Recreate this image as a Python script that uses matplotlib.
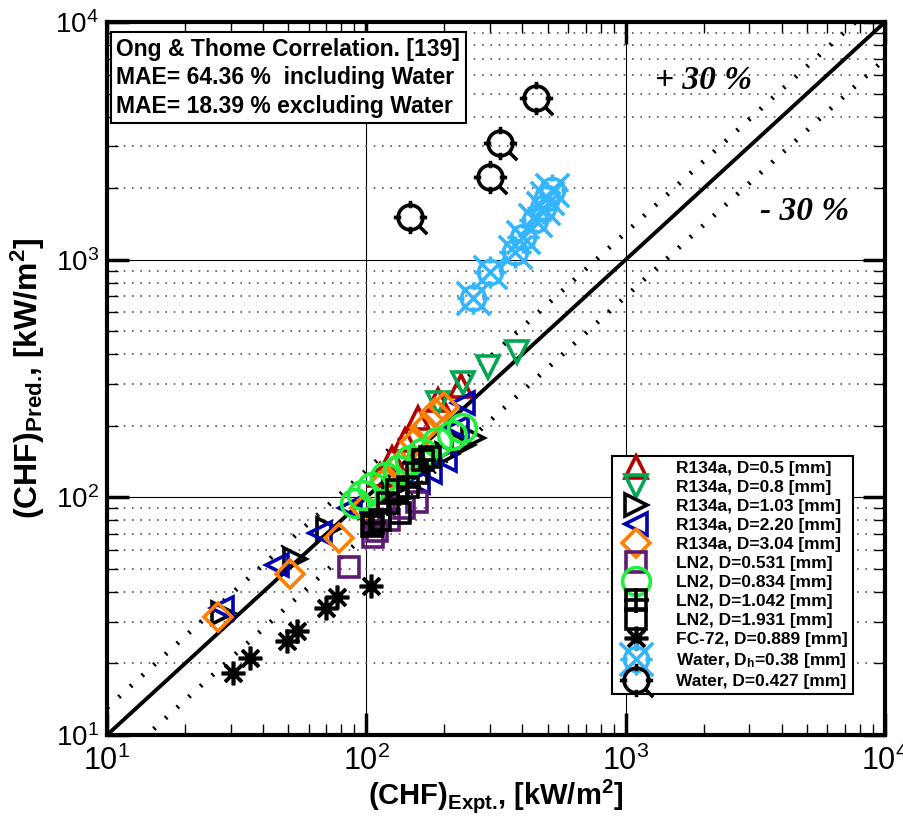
import matplotlib
matplotlib.use('Agg')
import matplotlib.pyplot as plt
import numpy as np
from matplotlib.path import Path

plt.rcParams['font.family'] = ['Liberation Sans', 'DejaVu Sans']
plt.rcParams['mathtext.default'] = 'regular'

r05_x = [113, 126, 141, 158, 189, 232]
r05_y = [124, 146, 174, 216, 256, 294]

r08_x = [189, 236, 294, 381]
r08_y = [249, 303, 353, 408]

r103_x = [28.0, 53.1, 71.1, 128, 205, 236, 258]
r103_y = [32.6, 55.0, 73.8, 108, 152, 166, 177]

r220_x = [27.8, 45.3, 66.3, 86.5, 158, 176, 201, 224, 236]
r220_y = [34.2, 51.9, 70.8, 90.2, 116, 128, 144, 196, 249]

r304_x = [26.8, 50.8, 78.5, 98.9, 118, 135, 154, 168, 184, 200]
r304_y = [31.4, 47.6, 67.4, 90.2, 116, 137, 171, 196, 226, 240]

ln531_x = [86, 106, 110, 122, 140, 157]
ln531_y = [51, 68, 72, 80, 90, 96]

ln834_x = [90.4, 96.2, 105, 118, 132, 147, 164, 187, 214, 234]
ln834_y = [94.6, 102, 110, 122, 130, 144, 154, 171, 183, 196]

ln1042_x = [106, 121, 145, 165]
ln1042_y = [78, 95, 110, 144]

ln1931_x = [105, 113, 131, 135, 157, 176]
ln1931_y = [76, 80, 107, 86, 126, 148]

fc72_x = [30.6, 35.6, 49.4, 54.0, 70.0, 77.1, 104]
fc72_y = [18.2, 21.1, 24.8, 27.4, 34.2, 38.1, 42.4]

w38_x = [258, 300, 375, 402, 447, 480, 498, 520]
w38_y = [689, 887, 1076, 1245, 1468, 1648, 1816, 1963]

w427_x = [147, 300, 328, 451]
w427_y = [1511, 2225, 3093, 4786]

# ---- custom markers ----
def circ_ticks(diag=False, cross=False):
    paths = [Path.circle((0, 0), 1.0)]
    for dx, dy in [(0, 1), (0, -1), (1, 0), (-1, 0)]:
        paths.append(Path([(0.75 * dx, 0.75 * dy), (1.35 * dx, 1.35 * dy)],
                          [Path.MOVETO, Path.LINETO]))
    if diag:
        paths.append(Path([(0.7, -0.7), (1.35, -1.35)], [Path.MOVETO, Path.LINETO]))
    if cross:
        paths.append(Path([(-1.4, -1.4), (1.4, 1.4)], [Path.MOVETO, Path.LINETO]))
        paths.append(Path([(-1.4, 1.4), (1.4, -1.4)], [Path.MOVETO, Path.LINETO]))
    return Path.make_compound_path(*paths)

water38_marker = circ_ticks(cross=True)
water427_marker = circ_ticks(diag=True)

fig = plt.figure(figsize=(9.04, 8.16), dpi=100)
ax = fig.add_axes([0.1184, 0.0993, 0.8606, 0.8737])
ax.set_xscale('log')
ax.set_yscale('log')
ax.set_xlim(10, 1e4)
ax.set_ylim(10, 1e4)

# reference lines (1:1 and +/-30 %)
xx = np.array([10, 1e4])
ax.plot(xx, xx, color='black', lw=2.8, zorder=2)
ax.plot(xx, 1.3 * xx, color='black', lw=3.4, ls=(0, (0.45, 2.9)), zorder=2)
ax.plot(xx, 0.7 * xx, color='black', lw=3.4, ls=(0, (0.45, 2.9)), zorder=2)

mk = dict(ls='none', mfc='none', mew=2.6, zorder=3)
h1, = ax.plot(r05_x, r05_y, marker='^', ms=16, mec='#b30000', **mk)
h2, = ax.plot(r08_x, r08_y, marker='v', ms=16, mec='#00a651', **mk)
h3, = ax.plot(r103_x, r103_y, marker='>', ms=16, mec='black', **mk)
h4, = ax.plot(r220_x, r220_y, marker='<', ms=16, mec='#0000b0', **mk)
h5, = ax.plot(r304_x, r304_y, marker='D', ms=14, mec='#ff7f00', **mk)
h6, = ax.plot(ln531_x, ln531_y, marker='s', ms=14, mec='#5c1a72', **mk)
h7, = ax.plot(ln834_x, ln834_y, marker='o', ms=20, mec='#1ef03c', **mk)
h8a, = ax.plot(ln1042_x, ln1042_y, marker='s', ms=14, mec='black', **mk)
h8b, = ax.plot(ln1042_x, ln1042_y, marker='+', ms=18, mec='black', **mk)
h9, = ax.plot(ln1931_x, ln1931_y, marker='s', ms=14, mec='black', **mk)
h10, = ax.plot(fc72_x, fc72_y, marker=(8, 2, 0), ms=17, mec='black', **mk)
h11, = ax.plot(w38_x, w38_y, marker=water38_marker, ms=24, mec='#33b5ff', **mk)
h12, = ax.plot(w427_x, w427_y, marker=water427_marker, ms=24, mec='black', **mk)

# grid and ticks
ax.grid(True, which='major', color='black', lw=0.8)
ax.grid(True, which='minor', axis='y', color='#555555', lw=1.2, ls=(0, (1, 4)))
ax.tick_params(which='major', direction='in', length=16, width=2.5,
               top=True, right=True, labelsize=20, pad=6)
ax.tick_params(which='minor', direction='in', length=8, width=1,
               top=True, right=True)
ax.tick_params(axis='x', which='major', labelsize=22, pad=8)
for s in ax.spines.values():
    s.set_linewidth(3)

ax.set_xlabel(r'(CHF)$_{Expt.}\!$, [kW/m$^{2}$]', fontsize=21, fontweight='bold',
              labelpad=0)
ax.set_ylabel(r'(CHF)$_{Pred.}\!$, [kW/m$^{2}$]', fontsize=23, fontweight='bold',
              labelpad=6)

ax.text(0.012, 0.978,
        'Ong & Thome Correlation. [139]\nMAE= 64.36 %  including Water\nMAE= 18.39 % excluding Water',
        transform=ax.transAxes, ha='left', va='top', fontsize=16.5, fontweight='bold',
        linespacing=1.3,
        bbox=dict(boxstyle='square,pad=0.25', fc='white', ec='black', lw=1.5), zorder=5)

ax.text(1297, 5250, '+ 30 %', fontsize=24, fontweight='bold', style='italic',
        family=['Liberation Serif', 'DejaVu Serif'], zorder=5)
ax.text(3296, 1469, '- 30 %', fontsize=24, fontweight='bold', style='italic',
        family=['Liberation Serif', 'DejaVu Serif'], zorder=5)

handles = [h1, h2, h3, h4, h5, h6, h7, (h8a, h8b), h9, h10, h11, h12]
labels = ['R134a, D=0.5 [mm]', 'R134a, D=0.8 [mm]', 'R134a, D=1.03 [mm]',
          'R134a, D=2.20 [mm]', 'R134a, D=3.04 [mm]', 'LN2, D=0.531 [mm]',
          'LN2, D=0.834 [mm]', 'LN2, D=1.042 [mm]', 'LN2, D=1.931 [mm]',
          'FC-72, D=0.889 [mm]', 'Water, D$_{h}$=0.38 [mm]', 'Water, D=0.427 [mm]']
leg = ax.legend(handles, labels, loc='lower right', bbox_to_anchor=(0.97, 0.045),
                fancybox=False, edgecolor='black', framealpha=1,
                prop={'weight': 'bold', 'size': 12.5}, labelspacing=0.22,
                handletextpad=1.2, handlelength=2.2, borderpad=0.3, markerscale=1.0)
leg.get_frame().set_linewidth(1.5)
leg.set_zorder(6)

fig.savefig('out.png', dpi=100)
